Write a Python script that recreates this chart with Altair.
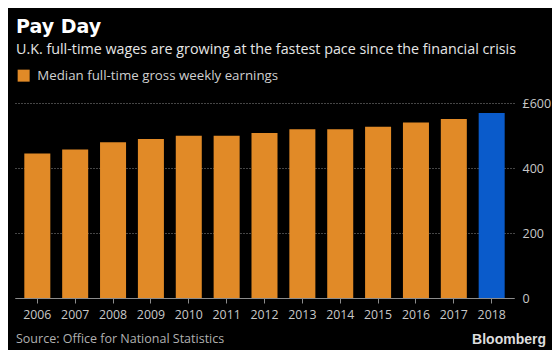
import altair as alt
import pandas as pd

years = ["2006", "2007", "2008", "2009", "2010", "2011", "2012",
         "2013", "2014", "2015", "2016", "2017", "2018"]
earnings = [445, 457, 479, 489, 499, 499, 508, 519, 519, 527, 540, 551, 569]
series_name = "Median full-time gross weekly earnings"
series = [series_name] * 12 + ["Latest"]
y_ticks = [0, 200, 400, 600]

title_text = "Pay Day"
subtitle_text = "U.K. full-time wages are growing at the fastest pace since the financial crisis"
source_text = "Source: Office for National Statistics"
brand_text = "Bloomberg"

ORANGE = "#E18A27"
BLUE = "#0A5BCB"
FONT = "Open Sans"

df = pd.DataFrame({"year": years, "value": earnings, "series": series})

W, H = 499, 195

bars = alt.Chart(df).mark_bar().encode(
    x=alt.X("year:N", sort=years, title=None,
            scale=alt.Scale(paddingInner=0.313, paddingOuter=0.246),
            axis=alt.Axis(labelAngle=0, labelFontSize=12.3, labelColor="#c8c8c8",
                          labelFont=FONT, domainColor="#8c8c8c", tickColor="#8c8c8c",
                          tickSize=5, labelPadding=5, grid=False)),
    y=alt.Y("value:Q", title=None,
            scale=alt.Scale(domain=[0, 600], nice=False),
            axis=alt.Axis(orient="right", values=y_ticks, domain=False, ticks=False,
                          labelPadding=8, labelFontSize=12.5, labelColor="#c8c8c8",
                          labelFont=FONT, gridColor="#8a8a8a", gridDash=[1, 2],
                          gridWidth=1,
                          labelExpr="datum.value == 600 ? '£600' : datum.label")),
    color=alt.Color("series:N",
                    scale=alt.Scale(domain=[series_name, "Latest"], range=[ORANGE, BLUE]),
                    legend=alt.Legend(values=[series_name], title=None, orient="none",
                                      legendX=2, legendY=-34, symbolType="square",
                                      symbolSize=144, symbolStrokeWidth=0,
                                      labelFontSize=13.3, labelColor="#cfcfcf",
                                      labelFont=FONT, labelOffset=7, padding=0,
                                      labelLimit=0)),
)


def txt(s, x, y, size, color, weight="normal", align="left", font=FONT):
    return alt.Chart(pd.DataFrame({"t": [s]})).mark_text(
        align=align, baseline="alphabetic", fontSize=size, font=font,
        fontWeight=weight, color=color,
    ).encode(x=alt.value(x), y=alt.value(y), text="t:N")


title = txt(title_text, 1, -69.7, 19, "#ffffff", weight="bold", font="DejaVu Sans")
subtitle = txt(subtitle_text, 1, -48.7, 14.3, "#e6e6e6")
source = txt(source_text, 1, 240, 12.5, "#b0b0b0")
brand = txt(brand_text, 531, 240.5, 14, "#dddddd", weight="bold", align="right",
            font="Liberation Sans")

chart = alt.layer(bars, title, subtitle, source, brand).properties(
    width=W, height=H,
    autosize=alt.AutoSizeParams(type="none"),
    padding={"left": 7, "top": 95, "right": 38, "bottom": 52},
    background="#000000",
).configure_view(stroke=None)

chart.save("out.html", embed_options={"renderer": "svg", "actions": False})
